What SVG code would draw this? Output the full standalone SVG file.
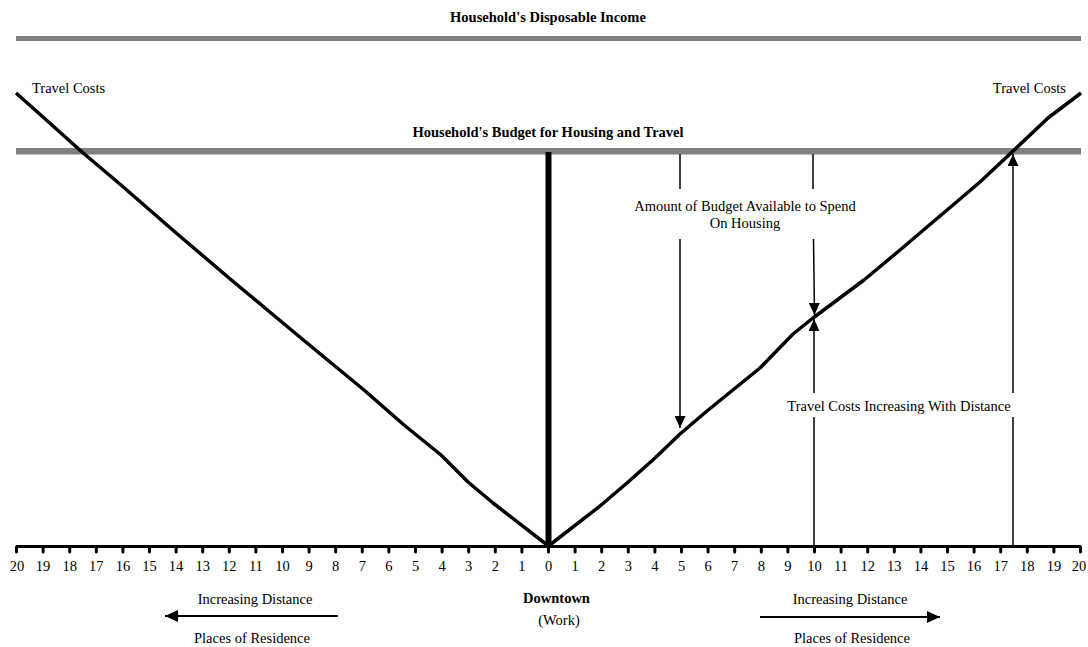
<svg xmlns="http://www.w3.org/2000/svg" width="1088" height="647" viewBox="0 0 1088 647">
<style>
text{font-family:"Liberation Serif","Times New Roman",serif;font-size:14.5px;fill:#000}
.b{font-weight:bold}
.m{text-anchor:middle}
.gray{fill:#808080}
.curve{fill:none;stroke:#000;stroke-width:3.5;stroke-linejoin:round}
.arr{stroke:#000;stroke-width:1.5;fill:none}
.tick{stroke:#000;stroke-width:3;stroke-linecap:round}
.nums text{text-anchor:middle}
</style>
<defs>
<marker id="ah" viewBox="0 0 12 11" markerWidth="12" markerHeight="11" refX="12" refY="5.5" orient="auto" markerUnits="userSpaceOnUse">
<path d="M0,0 L12,5.5 L0,11 z" fill="#000"/>
</marker>
<marker id="ahb" viewBox="0 0 13 12" markerWidth="13" markerHeight="12" refX="13" refY="6" orient="auto" markerUnits="userSpaceOnUse">
<path d="M0,0 L13,6 L0,12 z" fill="#000"/>
</marker>
</defs>
<rect width="1088" height="647" fill="#fff"/>

<g id="income">
<rect class="gray" x="16" y="36" width="1065" height="5"/>
<text class="b m" x="548" y="22">Household's Disposable Income</text>
</g>

<g id="budget">
<rect class="gray" x="16" y="148" width="1065" height="6.5"/>
<text class="b m" x="548" y="136.5">Household's Budget for Housing and Travel</text>
</g>

<g id="downtown-line">
<rect x="545.5" y="152" width="6" height="395" fill="#000"/>
</g>

<g id="travel-costs-left">
<polyline class="curve" points="16,93 43,117 82,152 121,185 175,232 229,278 271,313 307,343 364,390 388,411 404,425 441,455 468,482 493,503 548.5,546"/>
<text x="32" y="92.5">Travel Costs</text>
</g>

<g id="travel-costs-right">
<polyline class="curve" points="548.5,546 600,506 627,483 655,458 680,434 707,411 739,385 760,368 793,334 813,318 864,280 900,250 940,216 980,182 1012,152 1048,118 1081,93"/>
<text x="1066" y="92.5" text-anchor="end">Travel Costs</text>
</g>

<g id="axis">
<line x1="16" y1="546.5" x2="1081" y2="546.5" stroke="#000" stroke-width="3"/>
<g id="ticks">
<line class="tick" x1="16.5" y1="547" x2="16.5" y2="552"/>
<line class="tick" x1="43.1" y1="547" x2="43.1" y2="552"/>
<line class="tick" x1="69.7" y1="547" x2="69.7" y2="552"/>
<line class="tick" x1="96.3" y1="547" x2="96.3" y2="552"/>
<line class="tick" x1="122.9" y1="547" x2="122.9" y2="552"/>
<line class="tick" x1="149.5" y1="547" x2="149.5" y2="552"/>
<line class="tick" x1="176.1" y1="547" x2="176.1" y2="552"/>
<line class="tick" x1="202.7" y1="547" x2="202.7" y2="552"/>
<line class="tick" x1="229.3" y1="547" x2="229.3" y2="552"/>
<line class="tick" x1="255.9" y1="547" x2="255.9" y2="552"/>
<line class="tick" x1="282.5" y1="547" x2="282.5" y2="552"/>
<line class="tick" x1="309.1" y1="547" x2="309.1" y2="552"/>
<line class="tick" x1="335.7" y1="547" x2="335.7" y2="552"/>
<line class="tick" x1="362.3" y1="547" x2="362.3" y2="552"/>
<line class="tick" x1="388.9" y1="547" x2="388.9" y2="552"/>
<line class="tick" x1="415.5" y1="547" x2="415.5" y2="552"/>
<line class="tick" x1="442.1" y1="547" x2="442.1" y2="552"/>
<line class="tick" x1="468.7" y1="547" x2="468.7" y2="552"/>
<line class="tick" x1="495.3" y1="547" x2="495.3" y2="552"/>
<line class="tick" x1="521.9" y1="547" x2="521.9" y2="552"/>
<line class="tick" x1="548.5" y1="547" x2="548.5" y2="552"/>
<line class="tick" x1="575.1" y1="547" x2="575.1" y2="552"/>
<line class="tick" x1="601.7" y1="547" x2="601.7" y2="552"/>
<line class="tick" x1="628.3" y1="547" x2="628.3" y2="552"/>
<line class="tick" x1="654.9" y1="547" x2="654.9" y2="552"/>
<line class="tick" x1="681.5" y1="547" x2="681.5" y2="552"/>
<line class="tick" x1="708.1" y1="547" x2="708.1" y2="552"/>
<line class="tick" x1="734.7" y1="547" x2="734.7" y2="552"/>
<line class="tick" x1="761.3" y1="547" x2="761.3" y2="552"/>
<line class="tick" x1="787.9" y1="547" x2="787.9" y2="552"/>
<line class="tick" x1="814.5" y1="547" x2="814.5" y2="552"/>
<line class="tick" x1="841.1" y1="547" x2="841.1" y2="552"/>
<line class="tick" x1="867.7" y1="547" x2="867.7" y2="552"/>
<line class="tick" x1="894.3" y1="547" x2="894.3" y2="552"/>
<line class="tick" x1="920.9" y1="547" x2="920.9" y2="552"/>
<line class="tick" x1="947.5" y1="547" x2="947.5" y2="552"/>
<line class="tick" x1="974.1" y1="547" x2="974.1" y2="552"/>
<line class="tick" x1="1000.7" y1="547" x2="1000.7" y2="552"/>
<line class="tick" x1="1027.3" y1="547" x2="1027.3" y2="552"/>
<line class="tick" x1="1053.9" y1="547" x2="1053.9" y2="552"/>
<line class="tick" x1="1080.5" y1="547" x2="1080.5" y2="552"/>
</g>
<g class="nums">
<text x="17" y="571">20</text>
<text x="43.1" y="571">19</text>
<text x="69.7" y="571">18</text>
<text x="96.3" y="571">17</text>
<text x="122.9" y="571">16</text>
<text x="149.5" y="571">15</text>
<text x="176.1" y="571">14</text>
<text x="202.7" y="571">13</text>
<text x="229.3" y="571">12</text>
<text x="255.9" y="571">11</text>
<text x="282.5" y="571">10</text>
<text x="309.1" y="571">9</text>
<text x="335.7" y="571">8</text>
<text x="362.3" y="571">7</text>
<text x="388.9" y="571">6</text>
<text x="415.5" y="571">5</text>
<text x="442.1" y="571">4</text>
<text x="468.7" y="571">3</text>
<text x="495.3" y="571">2</text>
<text x="521.9" y="571">1</text>
<text x="548.5" y="571">0</text>
<text x="575.1" y="571">1</text>
<text x="601.7" y="571">2</text>
<text x="628.3" y="571">3</text>
<text x="654.9" y="571">4</text>
<text x="681.5" y="571">5</text>
<text x="708.1" y="571">6</text>
<text x="734.7" y="571">7</text>
<text x="761.3" y="571">8</text>
<text x="787.9" y="571">9</text>
<text x="814.5" y="571">10</text>
<text x="841.1" y="571">11</text>
<text x="867.7" y="571">12</text>
<text x="894.3" y="571">13</text>
<text x="920.9" y="571">14</text>
<text x="947.5" y="571">15</text>
<text x="974.1" y="571">16</text>
<text x="1000.7" y="571">17</text>
<text x="1027.3" y="571">18</text>
<text x="1053.9" y="571">19</text>
<text x="1079" y="571">20</text>
</g>
</g>

<g id="label-housing">
<text class="m" x="745" y="211">Amount of Budget Available to Spend</text>
<text class="m" x="745" y="228">On Housing</text>
</g>

<g id="label-travel">
<text class="m" x="899" y="411">Travel Costs Increasing With Distance</text>
</g>

<g id="label-downtown">
<text class="b m" x="556.5" y="602.5">Downtown</text>
<text class="m" x="559" y="625">(Work)</text>
</g>

<g id="label-left">
<text class="m" x="255" y="603.5">Increasing Distance</text>
<text class="m" x="252" y="643">Places of Residence</text>
</g>

<g id="label-right">
<text class="m" x="850" y="603.5">Increasing Distance</text>
<text class="m" x="852" y="643">Places of Residence</text>
</g>

<g id="connectors">
<line class="arr" x1="680" y1="154" x2="680" y2="189"/>
<line class="arr" x1="680" y1="239" x2="680" y2="428" marker-end="url(#ah)"/>
<line class="arr" x1="813" y1="154" x2="813" y2="189"/>
<line class="arr" x1="813.5" y1="239" x2="814.5" y2="315" marker-end="url(#ah)"/>
<line class="arr" x1="814" y1="546" x2="814" y2="417"/>
<line class="arr" x1="814" y1="393" x2="814" y2="319" marker-end="url(#ah)"/>
<line class="arr" x1="1013" y1="546" x2="1013" y2="417"/>
<line class="arr" x1="1013" y1="393" x2="1013" y2="154" marker-end="url(#ah)"/>
<line x1="338" y1="616" x2="165" y2="616" stroke="#000" stroke-width="2.2" marker-end="url(#ahb)"/>
<line x1="760" y1="617" x2="940" y2="617" stroke="#000" stroke-width="2.2" marker-end="url(#ahb)"/>
</g>
</svg>
